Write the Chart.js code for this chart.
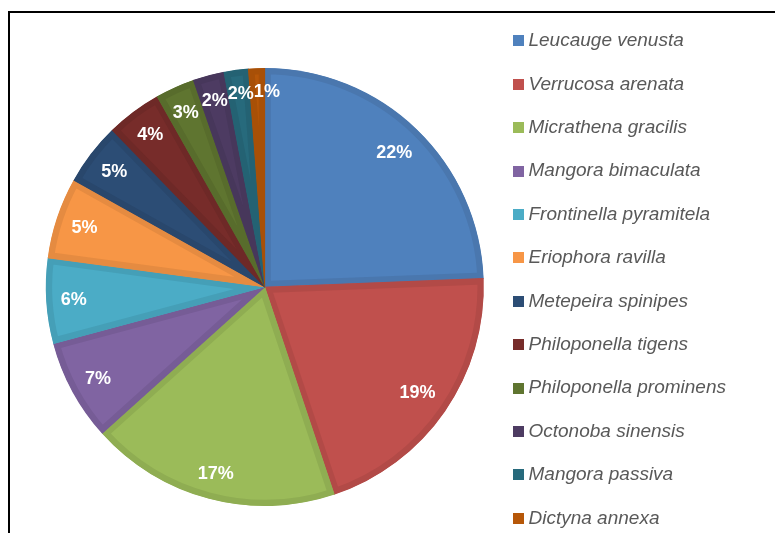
<!DOCTYPE html>
<html>
<head>
<meta charset="utf-8">
<script src="https://cdn.jsdelivr.net/npm/chart.js@4.4.0/dist/chart.umd.min.js"></script>
<style>
  html, body { margin: 0; padding: 0; background: #fff; overflow: hidden; width: 775px; height: 533px; }
  #frame { position: absolute; left: 8px; top: 11px; width: 900px; height: 700px; border: 2px solid #000; box-sizing: border-box; }
  #pie { position: absolute; left: 0; top: 0; }
</style>
</head>
<body>
<div id="frame"></div>
<canvas id="pie" width="775" height="567"></canvas>
<script>
// species (legend order = slice order, clockwise from 12 o'clock)
const species = [
  "Leucauge venusta", "Verrucosa arenata", "Micrathena gracilis", "Mangora bimaculata",
  "Frontinella pyramitela", "Eriophora ravilla", "Metepeira spinipes", "Philoponella tigens",
  "Philoponella prominens", "Octonoba sinensis", "Mangora passiva", "Dictyna annexa"
];
// slice sizes
const sliceValues = [24.4, 20.5, 18.5, 7.5, 6.3, 6.0, 4.6, 4.1, 2.9, 2.3, 1.8, 1.2];
// the percent labels as printed on the slices
const percentLabels = ["22%", "19%", "17%", "7%", "6%", "5%", "5%", "4%", "3%", "2%", "2%", "1%"];

const sliceColors = ["#4F81BD", "#C0504D", "#9BBB59", "#8064A2", "#4BACC6", "#F79646",
  "#2C4D75", "#772C2A", "#5F7530", "#4D3B62", "#276A7C", "#B65708"];
const edgeColors = ["#4A77AE", "#B24A47", "#8FAD52", "#765C96", "#459FB7", "#E58B41",
  "#29476C", "#6E2927", "#586C2C", "#47375B", "#246273", "#A85007"];

// little square swatch for the legend (drawn as a point style image)
function swatch(color) {
  const c = document.createElement("canvas");
  c.width = 11;
  c.height = 11;
  const g = c.getContext("2d");
  g.fillStyle = color;
  g.fillRect(0, 0, 11, 11);
  return c;
}

// white % text, "inside end" like excel: text box kept a bit inside the rim
const pctLabels = {
  id: "pctLabels",
  afterDatasetsDraw(chart) {
    const { ctx } = chart;
    const meta = chart.getDatasetMeta(0);
    ctx.save();
    ctx.font = "bold 18px 'Liberation Sans', Arial, sans-serif";
    ctx.fillStyle = "#fff";
    ctx.textAlign = "center";
    ctx.textBaseline = "middle";
    const placed = [];
    meta.data.forEach((arc, i) => {
      const mid = (arc.startAngle + arc.endAngle) / 2;
      const cx = Math.cos(mid), cy = Math.sin(mid);
      const hw = ctx.measureText(percentLabels[i]).width / 2;
      const r = arc.outerRadius - 14 - (Math.abs(cx) * hw + Math.abs(cy) * 8);
      let x = arc.x + cx * r;
      const y = arc.y + cy * r + 1;
      // push a label to the right if it runs into the one before it
      const prev = placed[i - 1];
      if (prev && Math.abs(y - prev.y) < 16 && x - prev.x < prev.hw + hw - 0.5 && x > prev.x - 5) {
        x = prev.x + prev.hw + hw;
      }
      placed.push({ x, y, hw });
      ctx.fillText(percentLabels[i], x, y);
    });
    ctx.restore();
  }
};

new Chart(document.getElementById("pie").getContext("2d"), {
  type: "pie",
  data: {
    labels: species,
    datasets: [{
      data: sliceValues,
      backgroundColor: sliceColors,
      borderColor: edgeColors,
      borderWidth: 6,
      borderAlign: "inner"
    }]
  },
  options: {
    responsive: false,
    animation: false,
    devicePixelRatio: 1,
    radius: 219,
    layout: { padding: { top: 7, left: 36, right: 39, bottom: 0 } },
    plugins: {
      tooltip: { enabled: false },
      legend: {
        position: "right",
        align: "start",
        labels: {
          usePointStyle: true,
          boxWidth: 1,
          boxHeight: 11,
          padding: 24.4,
          color: "#595959",
          font: { size: 19, style: "italic", family: "'Liberation Sans', Arial, sans-serif" },
          generateLabels(chart) {
            return Chart.overrides.pie.plugins.legend.labels.generateLabels(chart)
              .map(l => ({ ...l, pointStyle: swatch(l.fillStyle), lineWidth: 0 }));
          }
        }
      }
    }
  },
  plugins: [pctLabels]
});
</script>
</body>
</html>
